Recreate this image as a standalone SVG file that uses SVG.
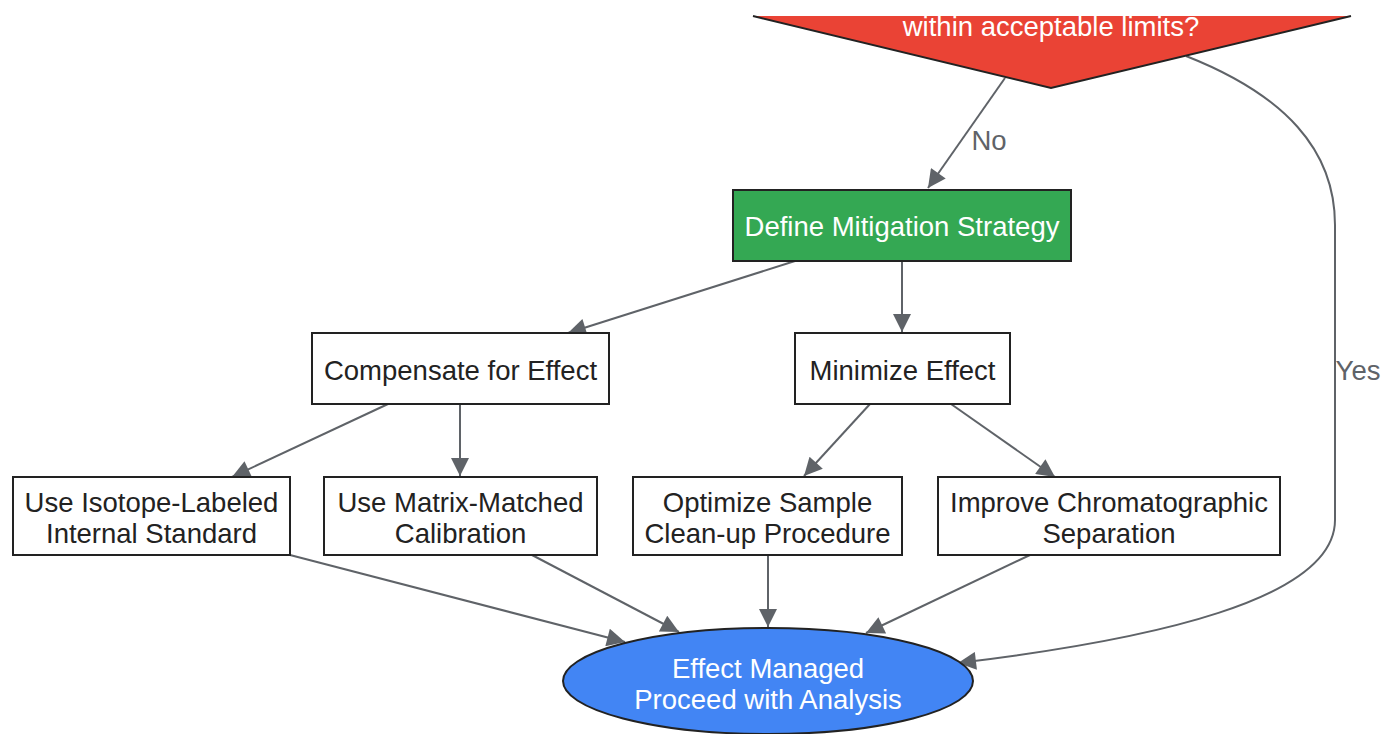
<svg xmlns="http://www.w3.org/2000/svg" width="1381" height="734" viewBox="0 0 1381 734">
<defs>
<marker id="arr" viewBox="0 0 10 10" refX="10" refY="5" markerWidth="21" markerHeight="18" markerUnits="userSpaceOnUse" orient="auto">
<path d="M0,0 L10,5 L0,10 z" fill="#5f6368"/>
</marker>
<style>
.box{fill:#ffffff;stroke:#222222;stroke-width:2}
.t{font-family:"Liberation Sans",Arial,sans-serif;font-size:27.5px;fill:#222222;text-anchor:middle}
.w{fill:#ffffff}
.e{fill:none;stroke:#5f6368;stroke-width:2;marker-end:url(#arr)}
.lbl{font-family:"Liberation Sans",Arial,sans-serif;font-size:27.5px;fill:#5f6368;text-anchor:middle}
</style>
</defs>
<rect width="1381" height="734" fill="#ffffff"/>
<g id="connectors">
<path class="e" d="M1005,78 L928,188"/>
<path class="e" d="M795,261 L568,333"/>
<path class="e" d="M902,261 L902,332"/>
<path class="e" d="M388,404 L232,477"/>
<path class="e" d="M460,404 L460,476"/>
<path class="e" d="M870,404 L804,476"/>
<path class="e" d="M951,404 L1055,477"/>
<path class="e" d="M290,555 L625,642"/>
<path class="e" d="M532,555 L679,632"/>
<path class="e" d="M768,555 L768,627"/>
<path class="e" d="M1030,555 L866,633"/>
<path class="e" d="M1186,56 C1285,95 1335,150 1335,225 L1335,520 C1335,600 1150,640 958,663"/>
<text class="lbl" x="989" y="150">No</text>
<text class="lbl" x="1358" y="380">Yes</text>
</g>
<g id="decision">
<polygon points="753,16 1351,16 1051,88" fill="#ea4335"/>
<polyline points="753,16 1051,88 1351,16" fill="none" stroke="#222222" stroke-width="2"/>
<text class="t w" x="1051" y="36">within acceptable limits?</text>
</g>
<g id="define">
<rect x="733" y="190" width="338" height="71" fill="#34a853" stroke="#222222" stroke-width="2"/>
<text class="t w" x="902" y="236">Define Mitigation Strategy</text>
</g>
<g id="compensate">
<rect class="box" x="312" y="333" width="297" height="71"/>
<text class="t" x="460.5" y="380">Compensate for Effect</text>
</g>
<g id="minimize">
<rect class="box" x="795" y="333" width="215" height="71"/>
<text class="t" x="902.5" y="380">Minimize Effect</text>
</g>
<g id="isotope">
<rect class="box" x="13" y="477" width="277" height="78"/>
<text class="t" x="151.5" y="512">Use Isotope-Labeled</text>
<text class="t" x="151.5" y="543">Internal Standard</text>
</g>
<g id="matrix">
<rect class="box" x="324" y="477" width="273" height="78"/>
<text class="t" x="460.5" y="512">Use Matrix-Matched</text>
<text class="t" x="460.5" y="543">Calibration</text>
</g>
<g id="optimize">
<rect class="box" x="633" y="477" width="269" height="78"/>
<text class="t" x="767.5" y="512">Optimize Sample</text>
<text class="t" x="767.5" y="543">Clean-up Procedure</text>
</g>
<g id="improve">
<rect class="box" x="938" y="477" width="342" height="78"/>
<text class="t" x="1109" y="512">Improve Chromatographic</text>
<text class="t" x="1109" y="543">Separation</text>
</g>
<g id="managed">
<ellipse cx="768" cy="681" rx="205" ry="53" fill="#4285f4" stroke="#222222" stroke-width="2"/>
<text class="t w" x="768" y="678">Effect Managed</text>
<text class="t w" x="768" y="709">Proceed with Analysis</text>
</g>
</svg>
